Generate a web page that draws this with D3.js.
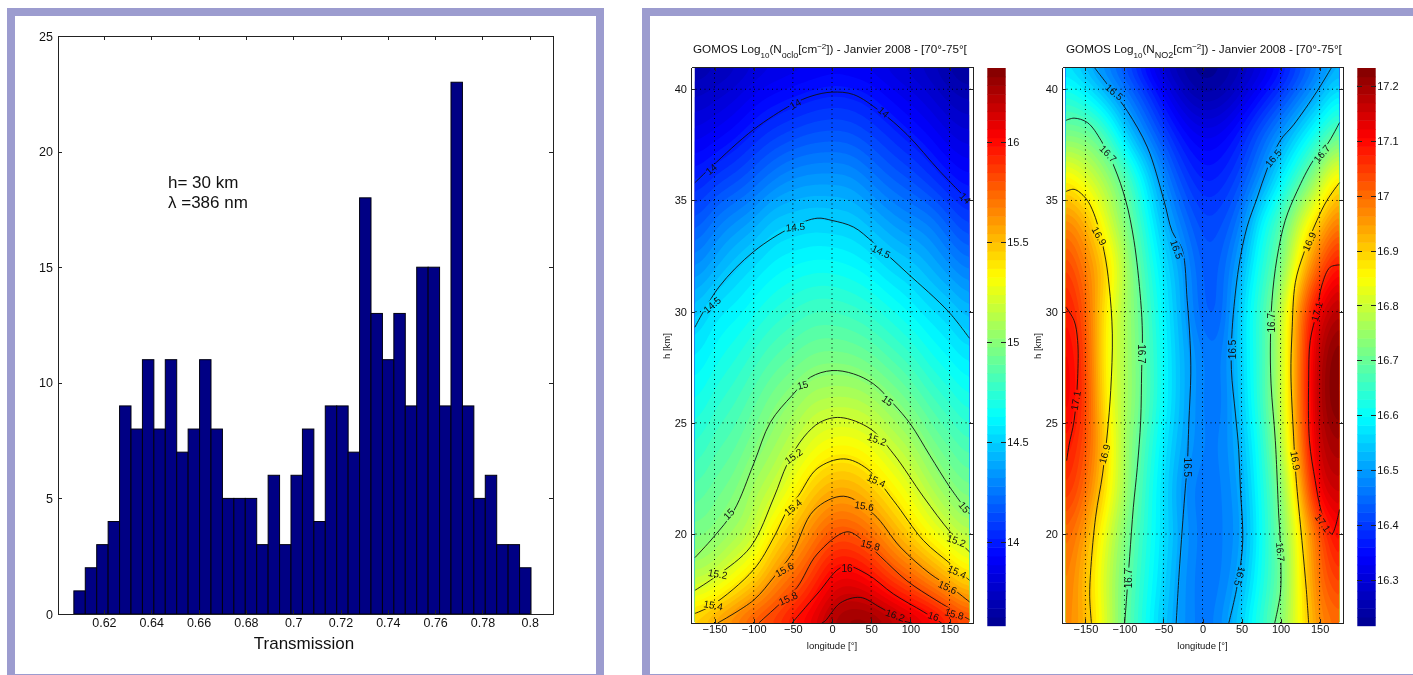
<!DOCTYPE html>
<html><head><meta charset="utf-8">
<style>
html,body{margin:0;padding:0;background:#fff;}
svg{display:block;filter:blur(0.35px);}
text{font-family:"Liberation Sans",Arial,sans-serif;fill:#111;}
</style>
<script src="https://cdn.jsdelivr.net/npm/d3@7"></script>
</head><body><div id="c"></div>
<script>
// ---------- Histogram data ----------
const histCounts=[1,2,3,4,9,8,11,8,11,7,8,11,8,5,5,5,3,6,3,6,8,4,9,9,7,18,13,11,13,9,15,15,9,23,9,5,6,3,3,2];
const histStart=0.6073, histStep=0.00483;
const histXTicks=[0.62,0.64,0.66,0.68,0.7,0.72,0.74,0.76,0.78,0.8];
const histYTicks=[0,5,10,15,20,25];
// ---------- Field grids ----------
const lons=[-175,-150,-125,-100,-75,-50,-25,0,25,50,75,100,125,150,175];
const alts=[16,18,20,22,24,26,28,30,32,34,36,38,40,41];
const oclo=[
[15.47,15.60,15.70,15.82,15.88,16.00,16.10,16.26,16.33,16.33,16.26,16.17,16.10,15.97,15.84],
[15.13,15.20,15.32,15.44,15.62,15.74,15.88,16.05,16.07,16.00,15.87,15.77,15.65,15.53,15.39],
[14.95,15.00,15.08,15.17,15.39,15.52,15.67,15.80,15.80,15.72,15.58,15.45,15.32,15.21,15.10],
[14.84,14.91,14.96,15.08,15.17,15.32,15.46,15.55,15.55,15.47,15.36,15.25,15.12,15.01,14.93],
[14.74,14.83,14.87,14.97,15.05,15.15,15.26,15.32,15.32,15.27,15.17,15.09,14.96,14.88,14.80],
[14.65,14.74,14.79,14.87,14.96,15.02,15.10,15.12,15.12,15.08,15.00,14.92,14.82,14.75,14.67],
[14.56,14.65,14.70,14.77,14.84,14.89,14.94,14.95,14.94,14.90,14.83,14.77,14.68,14.62,14.55],
[14.45,14.56,14.60,14.66,14.72,14.76,14.80,14.80,14.78,14.74,14.68,14.62,14.55,14.50,14.41],
[14.30,14.40,14.48,14.54,14.60,14.63,14.65,14.65,14.63,14.59,14.52,14.48,14.41,14.33,14.25],
[14.14,14.25,14.32,14.38,14.47,14.49,14.51,14.50,14.49,14.43,14.36,14.31,14.27,14.17,14.08],
[13.99,14.07,14.12,14.19,14.27,14.32,14.34,14.34,14.33,14.26,14.19,14.14,14.07,13.99,13.93],
[13.85,13.90,13.95,14.02,14.08,14.12,14.15,14.16,14.15,14.10,14.04,13.98,13.92,13.84,13.80],
[13.72,13.76,13.80,13.87,13.91,13.94,13.97,13.99,13.98,13.95,13.89,13.84,13.78,13.71,13.67],
[13.66,13.70,13.73,13.79,13.83,13.85,13.87,13.89,13.88,13.86,13.81,13.77,13.72,13.65,13.60]];
const no2=[
[16.98,16.93,16.82,16.70,16.62,16.54,16.49,16.46,16.485,16.56,16.64,16.73,16.85,16.97,17.00],
[17.00,16.92,16.81,16.71,16.63,16.56,16.49,16.46,16.47,16.52,16.62,16.70,16.86,17.00,17.06],
[17.02,16.95,16.83,16.73,16.64,16.57,16.50,16.46,16.47,16.50,16.61,16.71,16.87,17.03,17.12],
[17.07,17.00,16.88,16.76,16.65,16.57,16.49,16.46,16.47,16.51,16.62,16.72,16.93,17.13,17.16],
[17.10,17.03,16.90,16.76,16.67,16.58,16.51,16.47,16.47,16.53,16.63,16.76,16.98,17.17,17.20],
[17.13,17.05,16.87,16.77,16.69,16.60,16.52,16.47,16.46,16.55,16.65,16.78,17.00,17.19,17.24],
[17.13,17.04,16.86,16.77,16.69,16.60,16.52,16.47,16.46,16.56,16.65,16.78,17.00,17.18,17.24],
[17.10,17.02,16.87,16.77,16.68,16.59,16.51,16.44,16.44,16.56,16.65,16.77,16.98,17.13,17.19],
[17.06,16.98,16.90,16.77,16.66,16.57,16.50,16.43,16.44,16.52,16.63,16.71,16.89,17.02,17.11],
[16.98,16.93,16.83,16.73,16.63,16.53,16.46,16.41,16.42,16.47,16.59,16.67,16.80,16.91,17.00],
[16.87,16.82,16.76,16.68,16.58,16.48,16.41,16.37,16.38,16.42,16.49,16.58,16.67,16.77,16.89],
[16.72,16.71,16.66,16.56,16.48,16.41,16.35,16.32,16.33,16.37,16.43,16.49,16.56,16.63,16.71],
[16.62,16.58,16.52,16.46,16.40,16.33,16.27,16.24,16.25,16.29,16.34,16.39,16.45,16.51,16.58],
[16.57,16.52,16.47,16.42,16.35,16.28,16.24,16.22,16.23,16.26,16.30,16.35,16.41,16.47,16.52]];
// ---------- Contour lines: [level, [lon,h]...] ----------
const ocloLines=[
[14,[[-175,35.8],[-153,36.54],[-100,38.19],[-51,39.31],[-25.5,39.7],[0,39.87],[27.6,39.76],[61.6,39],[95.6,37.97],[138,36.3],[174,35]]],
[14.5,[[-175,29.3],[-144.5,31.1],[-100,32.7],[-51,33.8],[-19,34.2],[0,34.1],[27.6,33.8],[53,33.1],[95.6,31.75],[148.7,30],[175.5,28.8]]],
[15,[[-175,18.94],[-151,19.87],[-125,21.07],[-100,23.16],[-78.6,25.03],[-51,26.23],[-27.6,27.05],[0,27.35],[27.6,27.2],[53,26.75],[78.6,25.85],[100,24.95],[125,23.53],[150.6,22.1],[175.5,20.9]]],
[15.2,[[-175,17.47],[-146,18.15],[-104,19.42],[-74,21.66],[-57,23.16],[-36,24.36],[-15,25.03],[10.6,25.24],[49,24.73],[78.6,23.6],[117,21.66],[151,20.09],[175.5,19.2]]],
[15.4,[[-175,16.43],[-153,16.8],[-100,18.4],[-74,19.87],[-57,21.07],[-42.5,21.74],[-19,22.94],[15,23.38],[44.6,22.94],[78.6,21.5],[117,19.7],[151,18.67],[175.5,17.92]]],
[15.6,[[-146,16],[-100,17.03],[-74,18.07],[-51,19.12],[-23,21.07],[15,21.7],[53,20.9],[87,19.42],[125,18.22],[151,17.62],[175.5,16.95]]],
[15.8,[[-93.5,16],[-66,16.88],[-44.6,17.6],[-19,19.1],[19,20.1],[40,19.7],[61.6,19],[95.6,17.9],[134,17],[175.5,16.15]]],
[16,[[-51,16],[-19,17.3],[15,18.55],[44.6,18.2],[78.6,17.3],[117,16.5],[140,16]]],
[16.2,[[-13,16],[-8.5,16.1],[10.6,16.9],[36,17.15],[61.6,16.7],[91,16.1],[102,16]]]];
const no2Lines=[
[16.5,[[-139,41],[-115,39.9],[-96,39],[-70.7,37.4],[-49.4,35],[-38.8,33.6],[-26,32.8],[-19.6,30.5],[-16,28.7],[-15,27.2],[-17.5,25],[-19.6,23],[-21.7,22.2],[-30,18.2],[-33.7,16]]],
[16.7,[[-175,38.6],[-164.5,38.7],[-147.4,38.5],[-130,37.7],[-113,36.5],[-98.4,35],[-87.8,33.2],[-79.2,30.5],[-77,29],[-78,27.3],[-79.2,25.1],[-83.5,23],[-88.6,21.2],[-93.3,19],[-97,17.25],[-99.7,16]]],
[16.9,[[-175,35.4],[-164.5,35.5],[-149.6,35.1],[-139,34.4],[-126,32.7],[-119.7,31.2],[-115.5,29],[-117.6,26.45],[-122,24.5],[-128,22.7],[-136.8,20.8],[-143,18.5],[-144.5,17.2],[-142.3,16]]],
[17.1,[[-175,30.2],[-164.5,29.6],[-160,28.7],[-160,27],[-164.5,25.1],[-171,24],[-174,23.3]]],
[16.5,[[165.7,41],[146.6,39.9],[116.7,38.4],[99.7,37.7],[82.7,36.4],[69.9,35.1],[57,33.8],[46.4,32],[38,29.2],[37,27.4],[42.2,25.4],[46.4,23.8],[48.6,22],[51.5,20.2],[50.7,19.2],[43.5,17.5],[33.7,16]]],
[16.7,[[175.5,38.5],[159.4,37.5],[142,36.8],[121,35.4],[106,34.1],[95.4,32.4],[89,30.5],[87,28.6],[87.8,26.75],[93.3,24.2],[97.6,20.9],[98.8,20.2],[100.5,18.5],[99.7,17.3],[92.5,16]]],
[16.9,[[175.5,35.8],[159.4,35],[146.6,34.1],[129.5,32.6],[118.9,31.3],[114.6,29],[113.3,27.2],[116.7,24.4],[119.7,22.6],[127.4,19.7],[133,17.5],[136,16]]],
[17.1,[[175.5,32.1],[163.6,32],[153,31.2],[146.6,30],[138,28.7],[136,26.9],[137,24.2],[144.4,22.4],[150.8,21.2],[157,20.5],[165.7,20],[175.5,21.1]]]];
// ---------- Contour labels: [text, lon, h, angle] ----------
const ocloLabels=[["14",-46.7,39.34,-30],["14",65.9,38.97,40],["14",-154,36.4,-40],["14",170,35.1,45],
["14.5",-46.7,33.8,-5],["14.5",62.5,32.7,25],["14.5",-153,30.3,-40],
["15",-37.4,26.7,-15],["15",71,26,35],["15",-131.7,20.9,-45],["15",168.7,21.2,50],
["15.2",-48.9,23.5,-35],["15.2",57.4,24.25,20],["15.2",-145.8,18.2,10],["15.2",158.8,19.7,20],
["15.4",-49.7,21.2,-40],["15.4",56.5,22.4,25],["15.4",-151.7,16.8,10],["15.4",159.6,18.3,25],
["15.6",-60.8,18.4,-30],["15.6",41.2,21.26,10],["15.6",147.5,17.6,25],
["15.8",-56,17.1,-25],["15.8",48.9,19.5,15],["15.8",156,16.4,15],
["16",19.1,18.45,0],["16",129.6,16.3,20],["16.2",80.7,16.35,20]];
const no2Labels=[["16.5",-113,39.87,40],["16.7",-121,37.1,45],["16.9",-132.5,33.4,60],["16.5",-33.2,32.8,70],
["16.5",90.8,36.9,-50],["16.7",153,37.1,-50],["16.9",137,33.15,-65],["17.1",146.6,30,-75],["16.7",89,29.5,-90],
["16.5",37.9,28.3,-90],["16.7",-78,28.1,90],["17.1",-162.3,26,-80],["16.9",-125.3,23.6,-75],["16.9",118.9,23.3,80],
["16.5",-19.6,23,90],["16.7",99.7,19.2,85],["16.5",47.7,18.1,105],["16.7",-94.2,18,-90],["17.1",154,20.5,55]];
// ---------- Axis ticks ----------
const lonTicks=[-150,-100,-50,0,50,100,150];
const altTicks=[20,25,30,35,40];
const ocloBarTicks=[14,14.5,15,15.5,16];
const no2BarTicks=[16.3,16.4,16.5,16.6,16.7,16.8,16.9,17,17.1,17.2];

const W=1413,H=675,frame="#9c9ccf";
const svg=d3.select("#c").append("svg").attr("width",W).attr("height",H).attr("viewBox",`0 0 ${W} ${H}`);
// panel frames
function panel(x,y,w,h,t){svg.append("rect").attr("x",x+t/2).attr("y",y+t/2).attr("width",w-t).attr("height",h-t)
 .attr("fill","#fff").attr("stroke",frame).attr("stroke-width",t);}
panel(7,8,597,674,8);
panel(642,8,790,674,8);

function styleAxis(g,size){g.selectAll("path,line").attr("stroke","#222").attr("stroke-width",1).attr("shape-rendering","crispEdges");
 g.selectAll("text").attr("font-size",size).attr("fill","#111");}
function boxAxes(x,y,ticksX,ticksY,size,padX,padY,fmtX,fmtY){
 const [x0,x1]=x.range(),[y0,y1]=y.range(),len=4;
 const mk=(ax,tx,ty)=>{const g=svg.append("g").attr("transform",`translate(${tx},${ty})`).call(ax);styleAxis(g,size);return g;};
 mk(d3.axisBottom(x).tickValues(ticksX).tickSizeInner(-len).tickSizeOuter(0).tickPadding(padX).tickFormat(fmtX),0,y0);
 mk(d3.axisTop(x).tickValues(ticksX).tickSizeInner(-len).tickSizeOuter(0).tickFormat(()=>""),0,y1);
 mk(d3.axisLeft(y).tickValues(ticksY).tickSizeInner(-len).tickSizeOuter(0).tickPadding(padY).tickFormat(fmtY),x0,0);
 mk(d3.axisRight(y).tickValues(ticksY).tickSizeInner(-len).tickSizeOuter(0).tickFormat(()=>""),x1,0);
}
// ---------- Histogram ----------
const hx=d3.scaleLinear().domain([0.6006,0.8098]).range([58,553]);
const hy=d3.scaleLinear().domain([0,25]).range([614,36]);
svg.append("g").selectAll("rect").data(histCounts).join("rect")
 .attr("x",(d,i)=>hx(histStart+i*histStep)).attr("width",(d,i)=>hx(histStart+(i+1)*histStep)-hx(histStart+i*histStep))
 .attr("y",d=>hy(d)).attr("height",d=>hy(0)-hy(d)).attr("fill","#000084").attr("stroke","#000010").attr("stroke-width",1);
boxAxes(hx,hy,histXTicks,histYTicks,12.5,4,5,d3.format(""),d3.format("d"));
svg.append("text").attr("x",304).attr("y",649).attr("text-anchor","middle").attr("font-size",17).attr("fill","#222").text("Transmission");
svg.append("text").attr("x",168).attr("y",188).attr("font-size",17).attr("fill","#222").text("h= 30 km");
svg.append("text").attr("x",168).attr("y",208).attr("font-size",17).attr("fill","#222").text("λ =386 nm");

// ---------- Jet colormap ----------
const jet=d3.scaleLinear().domain([0,0.125,0.375,0.625,0.875,1]).range(["#00008f","#0000ff","#00ffff","#ffff00","#ff0000","#800000"]).clamp(true);
const nColors=64;
// Hermite interpolation through grid values (MATLAB-like smooth shading)
function herm(xs,ys,x){let i=d3.bisectRight(xs,x)-1;i=Math.max(0,Math.min(xs.length-2,i));
 const h=xs[i+1]-xs[i],t=(x-xs[i])/h;
 const m=k=>k<=0?(ys[1]-ys[0])/(xs[1]-xs[0]):k>=xs.length-1?(ys[k]-ys[k-1])/(xs[k]-xs[k-1]):(ys[k+1]-ys[k-1])/(xs[k+1]-xs[k-1]);
 const t2=t*t,t3=t2*t;
 return (2*t3-3*t2+1)*ys[i]+(t3-2*t2+t)*h*m(i)+(-2*t3+3*t2)*ys[i+1]+(t3-t2)*h*m(i+1);}

function field(cfg){
 const x=d3.scaleLinear().domain([-180,180]).range(cfg.xr);
 const y=d3.scaleLinear().domain([16,41]).range([623,67]);
 const n=140,m=250,vals=new Float64Array(n*m);
 for(let j=0;j<m;j++){const h=41-(j+0.5)/m*25;
  const col=lons.map((_,c)=>herm(alts,cfg.grid.map(r=>r[c]),h));
  for(let i=0;i<n;i++){vals[j*n+i]=herm(lons,col,-175+(i+0.5)/n*350);}}
 d3.blur2({data:vals,width:n},4);
 const th=d3.range(1,nColors).map(k=>cfg.dom[0]+k/nColors*(cfg.dom[1]-cfg.dom[0]));
 const contours=d3.contours().size([n,m]).smooth(true).thresholds(th);
 const proj=d3.geoTransform({point(px,py){this.stream.point(x(-175+px/n*350),y(41-py/m*25));}});
 const path=d3.geoPath(proj);
 const g=svg.append("g");
 g.append("rect").attr("x",x(-175)).attr("width",x(175)-x(-175)).attr("y",y(41)).attr("height",y(16)-y(41)).attr("fill",jet(0));
 g.selectAll("path").data(contours(vals)).join("path").attr("d",path)
  .attr("fill",(d,i)=>jet((i+1.5)/nColors));
 // contour lines, broken under the labels
 const id="mask"+cfg.id;
 const mask=svg.append("mask").attr("id",id).attr("maskUnits","userSpaceOnUse").attr("x",cfg.xr[0]).attr("y",60).attr("width",300).attr("height",570);
 mask.append("rect").attr("x",cfg.xr[0]).attr("y",60).attr("width",300).attr("height",570).attr("fill","#fff");
 mask.selectAll("rect.g").data(cfg.labels).join("rect").attr("class","g")
  .attr("x",d=>d[0].length>2?-11:-6.5).attr("width",d=>d[0].length>2?22:13).attr("y",-5).attr("height",10).attr("fill","#000")
  .attr("transform",d=>`translate(${x(d[1])},${y(d[2])}) rotate(${d[3]})`);
 const line=d3.line().x(d=>x(d[0])).y(d=>y(d[1])).curve(d3.curveCatmullRom.alpha(0.5));
 svg.append("g").attr("mask",`url(#${id})`).selectAll("path").data(cfg.lines).join("path")
  .attr("d",d=>line(d[1])).attr("fill","none").attr("stroke","#111").attr("stroke-width",0.9);
 // grid
 const grid=svg.append("g").attr("stroke","#000").attr("stroke-width",1).attr("stroke-dasharray","1,3.5");
 grid.selectAll("line.v").data(lonTicks).join("line").attr("class","v").attr("x1",x).attr("x2",x).attr("y1",y(16)).attr("y2",y(41));
 grid.selectAll("line.h").data(altTicks).join("line").attr("class","h").attr("y1",y).attr("y2",y).attr("x1",x(-180)).attr("x2",x(180));
 // contour label text
 svg.append("g").selectAll("text").data(cfg.labels).join("text").text(d=>d[0]).attr("font-size",10)
  .attr("text-anchor","middle").attr("dominant-baseline","central")
  .attr("transform",d=>`translate(${x(d[1])},${y(d[2])}) rotate(${d[3]})`);
 boxAxes(x,y,lonTicks,altTicks,11,2.5,4,d3.format("d"),d3.format("d"));
 svg.append("text").attr("x",(cfg.xr[0]+cfg.xr[1])/2).attr("y",649).attr("text-anchor","middle").attr("font-size",9.5).text("longitude [°]");
 svg.append("text").attr("transform",`translate(${cfg.xr[0]-21},346) rotate(-90)`).attr("text-anchor","middle").attr("font-size",9.5).text("h [km]");
 // title
 const t=svg.append("text").attr("x",cfg.titleX).attr("y",53).attr("font-size",11.7);
 t.append("tspan").text("GOMOS Log");
 t.append("tspan").attr("dy",5).attr("font-size",8).text("10");
 t.append("tspan").attr("dy",-5).text("(N");
 t.append("tspan").attr("dy",5).attr("font-size",9).text(cfg.sub);
 t.append("tspan").attr("dy",-5).text("[cm");
 t.append("tspan").attr("dy",-4).attr("font-size",8).text("−2");
 t.append("tspan").attr("dy",4).text("]) - Janvier 2008 - [70°-75°[");
 // colour bar
 const cy=d3.scaleLinear().domain(cfg.dom).range([625.7,68]);
 const cb=svg.append("g");
 cb.selectAll("rect").data(d3.range(nColors)).join("rect").attr("x",cfg.cb[0]).attr("width",cfg.cb[1]-cfg.cb[0])
  .attr("y",k=>cy(cfg.dom[0]+(k+1)/nColors*(cfg.dom[1]-cfg.dom[0]))).attr("height",(cy.range()[0]-cy.range()[1])/nColors+0.5)
  .attr("fill",k=>jet((k+0.5)/nColors));
 const a=svg.append("g").attr("transform",`translate(${cfg.cb[1]},0)`).call(d3.axisRight(cy).tickValues(cfg.ticks).tickSizeInner(-5).tickSizeOuter(0).tickPadding(1.5).tickFormat(d3.format("")));
 styleAxis(a,11);a.select("path").remove();
 const a2=svg.append("g").attr("transform",`translate(${cfg.cb[0]},0)`).call(d3.axisLeft(cy).tickValues(cfg.ticks).tickSizeInner(-5).tickSizeOuter(0).tickFormat(()=>""));
 styleAxis(a2,11);a2.select("path").remove();
}
field({id:"a",grid:oclo,xr:[691,973],titleX:693,dom:[13.58,16.37],lines:ocloLines,labels:ocloLabels,sub:"oclo",cb:[987.3,1005.7],ticks:ocloBarTicks});
field({id:"b",grid:no2,xr:[1062,1343],titleX:1066,dom:[16.2175,17.232],lines:no2Lines,labels:no2Labels,sub:"NO2",cb:[1357.3,1375.7],ticks:no2BarTicks});
</script></body></html>
